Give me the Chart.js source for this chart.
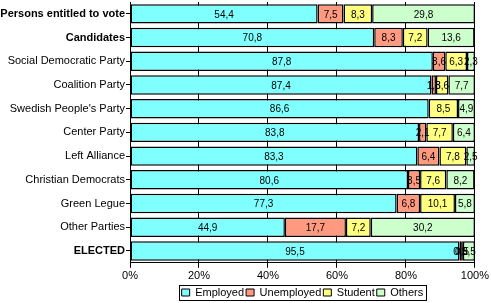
<!DOCTYPE html>
<html>
<head>
<meta charset="utf-8">
<script src="https://cdn.jsdelivr.net/npm/chart.js@4/dist/chart.umd.min.js"></script>
<style>
  html, body { margin: 0; padding: 0; background: #fff; }
  #wrap { width: 491px; height: 303px; }
</style>
</head>
<body>
<div id="wrap"><canvas id="myChart" width="491" height="303"></canvas></div>
<script>
// categories (top to bottom)
var groups = ["Persons entitled to vote", "Candidates", "Social Democratic Party", "Coalition Party",
  "Swedish People's Party", "Center Party", "Left Alliance", "Christian Democrats",
  "Green Legue", "Other Parties", "ELECTED"];
var boldRows = [0, 1, 10];

// shares in percent
var employed   = [54.4, 70.8, 87.8, 87.4, 86.6, 83.8, 83.3, 80.6, 77.3, 44.9, 95.5];
var unemployed = [7.5, 8.3, 3.6, 1.3, 0, 2.1, 6.4, 3.5, 6.8, 17.7, 0.5];
var student    = [8.3, 7.2, 6.3, 3.6, 8.5, 7.7, 7.8, 7.6, 10.1, 7.2, 0.5];
var others     = [29.8, 13.6, 2.3, 7.7, 4.9, 6.4, 2.5, 8.2, 5.8, 30.2, 3.5];

var xTicks = [0, 20, 40, 60, 80, 100];

var font = "'Liberation Sans', Arial, sans-serif";
var legendPad = 2;

// value labels in the middle of each segment, comma decimals
var valueLabels = {
  id: 'valueLabels',
  afterDatasetsDraw: function(chart) {
    var ctx = chart.ctx;
    ctx.save();
    ctx.font = '10px ' + font;
    ctx.fillStyle = '#000';
    ctx.textAlign = 'center';
    ctx.textBaseline = 'middle';
    chart.data.datasets.forEach(function(ds, i) {
      chart.getDatasetMeta(i).data.forEach(function(bar, j) {
        var v = ds.data[j];
        if (!v) return;
        var cx = (bar.x + bar.base) / 2;
        ctx.fillText(v.toFixed(1).replace('.', ','), cx, bar.y + 1);
      });
    });
    ctx.restore();
  }
};

// center the legend under the plot area and box it
var legendBox = {
  id: 'legendBox',
  afterLayout: function(chart) {
    var lg = chart.legend;
    if (!lg) return;
    // adjustHitBoxes adds the offset to top again, so take it off first
    lg.legendHitBoxes.forEach(function(h) { h.top -= lg.top + legendPad; });
    lg.left = chart.chartArea.left;
    lg.right = chart.chartArea.right;
    lg.width = lg.right - lg.left;
    lg.adjustHitBoxes();
  },
  afterDraw: function(chart) {
    var lg = chart.legend;
    if (!lg || !lg.legendHitBoxes.length) return;
    var hb = lg.legendHitBoxes;
    var l = hb[0].left - 3, r = hb[hb.length - 1].left + hb[hb.length - 1].width + 2;
    var t = hb[0].top - 2, b = hb[0].top + hb[0].height + 2;
    var ctx = chart.ctx;
    ctx.save();
    ctx.strokeStyle = '#000';
    ctx.lineWidth = 1;
    ctx.strokeRect(Math.round(l) + 0.5, Math.round(t) + 0.5, Math.round(r - l), Math.round(b - t));
    ctx.restore();
  }
};

var ctx = document.getElementById("myChart");
var myChart = new Chart(ctx, {
  type: 'bar',
  data: {
    labels: groups,
    datasets: [
      { label: 'Employed', data: employed, backgroundColor: '#80FFFF' },
      { label: 'Unemployed', data: unemployed, backgroundColor: '#FF9980' },
      { label: 'Student', data: student, backgroundColor: '#FFFF80' },
      { label: 'Others', data: others, backgroundColor: '#CCFFCC' }
    ].map(function(d) {
      d.borderColor = '#000';
      d.borderWidth = 1.5;
      d.borderSkipped = false;
      d.categoryPercentage = 1;
      d.barPercentage = 0.82;
      return d;
    })
  },
  options: {
    indexAxis: 'y',
    responsive: false,
    animation: false,
    layout: { padding: { left: 0, right: 0, top: 2, bottom: -5 } },
    plugins: {
      tooltip: { enabled: false },
      legend: {
        position: 'bottom',
        labels: {
          font: { family: font, size: 11 },
          color: '#000',
          boxWidth: 8,
          boxHeight: 7,
          padding: legendPad,
          generateLabels: function(chart) {
            return chart.data.datasets.map(function(d, i) {
              return { text: d.label, fillStyle: d.backgroundColor, strokeStyle: '#000',
                lineWidth: 1, datasetIndex: i, fontColor: '#000' };
            });
          }
        }
      }
    },
    scales: {
      x: {
        stacked: true,
        min: 0,
        max: 100,
        afterBuildTicks: function(axis) {
          axis.ticks = xTicks.map(function(v) { return { value: v }; });
        },
        ticks: {
          font: { family: font, size: 11 },
          color: '#000',
          padding: 2,
          callback: function(v) { return v + '%'; }
        },
        grid: { color: '#000', lineWidth: 1, tickLength: 5, drawOnChartArea: true },
        border: { color: '#000', width: 1 }
      },
      y: {
        stacked: true,
        afterFit: function(axis) {
          axis.width = 130;
          axis.paddingTop = 0;
          axis.paddingBottom = 0;
        },
        ticks: {
          color: '#000',
          padding: 1,
          font: function(c) {
            var bold = c.tick && boldRows.indexOf(c.index) >= 0;
            return { family: font, size: 11, weight: bold ? 'bold' : 'normal' };
          }
        },
        grid: { display: true, drawOnChartArea: false, color: '#000', tickLength: 4, offset: false },
        border: { color: '#000', width: 1 }
      }
    }
  },
  plugins: [valueLabels, legendBox]
});
</script>
</body>
</html>
